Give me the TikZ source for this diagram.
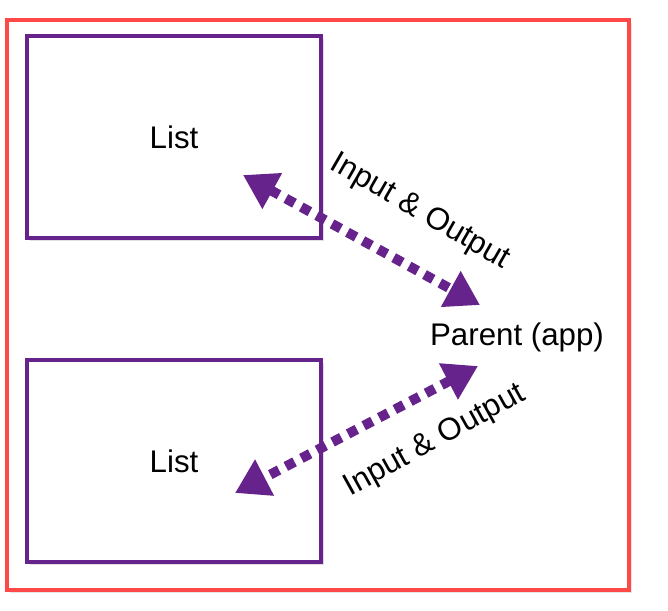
\documentclass[tikz,border=0pt]{standalone}
\usepackage{fontspec}
\setmainfont{Liberation Sans}
\usetikzlibrary{arrows.meta,shadows}
\definecolor{listpurple}{RGB}{102,35,140}
\definecolor{framered}{RGB}{255,72,72}
\tikzstyle{listbox} = [rectangle, minimum width=5.88cm, minimum height=4.04cm, text centered, draw=listpurple, line width=2pt, fill=white, drop shadow={opacity=0.25, shadow xshift=1.5pt, shadow yshift=-1.5pt}]
\tikzstyle{io} = [draw=listpurple, line width=5.6pt, dash pattern=on 5.6pt off 4.4pt, {Triangle[length=19pt,width=22pt]}-{Triangle[length=19pt,width=22pt]}]
\tikzstyle{lbl} = [font=\fontsize{17.8}{20}\selectfont]

\begin{document}
\begin{tikzpicture}[x=0.02cm, y=-0.02cm]
		\useasboundingbox (0,0) rectangle (668,610);
		\draw[framered, line width=2pt, drop shadow={opacity=0.2, shadow xshift=1.5pt, shadow yshift=-1.5pt}, fill=white](7,20) rectangle (629,590);
		\node[listbox, lbl](listtop) at (174,137){List};
		\node[listbox, lbl](listbottom) at (174,461){List};
		\node[lbl](parent) at (517,337){Parent (app)};
		
		\coordinate (topin) at (243,175);
		\coordinate (parentin) at (480,305);
		\coordinate (parentout) at (478,366);
		\coordinate (bottomin) at (235,493);
		
		\draw[io](topin)--(parentin);
		\draw[io](parentout)--(bottomin);
		
		\node[lbl, rotate=-30](labeltop) at (420,212){Input \& Output};
		\node[lbl, rotate=29](labelbottom) at (435,441){Input \& Output};
	\end{tikzpicture}
\end{document}
